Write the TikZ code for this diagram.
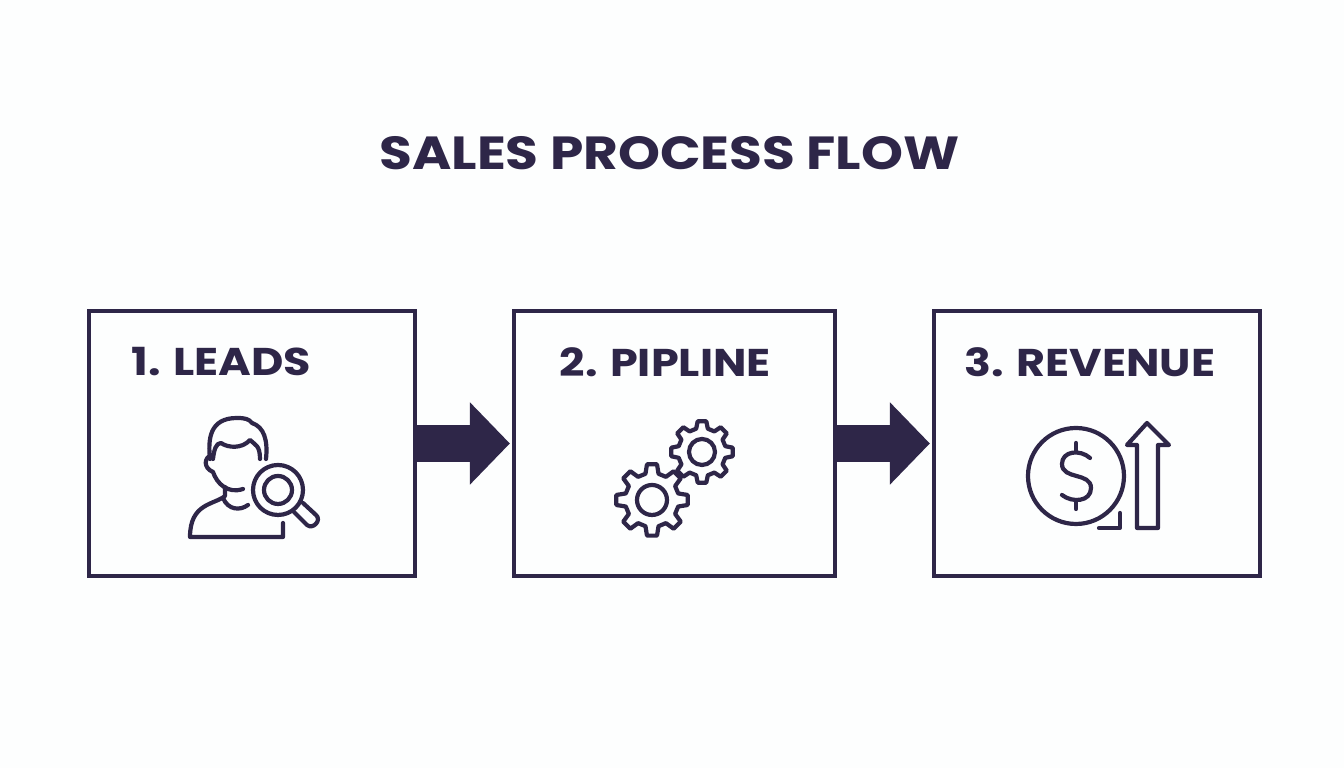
\documentclass[tikz,border=0pt]{standalone}
\usepackage{fontspec}
\setmainfont{Poppins}
\newfontfamily\widefont[FakeStretch=1.15]{Poppins Bold}
\usetikzlibrary{arrows.meta}

\definecolor{inkdark}{HTML}{2E2648}
\definecolor{paper}{HTML}{FDFEFE}

\tikzset{
    stagebox/.style={draw=inkdark, line width=0.038cm, minimum height=2.65cm, outer sep=0pt, inner sep=0pt},
    stagelabel/.style={anchor=west, inner sep=0pt, text=inkdark, font=\fontsize{11}{13}\selectfont\widefont},
    flowarrow/.style={draw=inkdark, line width=0.37cm, shorten >=0.04cm, -{Triangle[length=0.40cm, width=0.80cm]}},
    iconline/.style={draw=inkdark, line width=0.042cm, line join=round, line cap=round},
}

\newcommand{\gearicon}[5]{%
    \begin{scope}[shift={(#1,#2)}]
        \draw[iconline] (-14:#4) \foreach \a in {0,45,...,315} {
            -- ({\a-14}:#4) -- ({\a-8}:#3) -- ({\a+8}:#3) -- ({\a+14}:#4)
        } -- cycle;
        \draw[iconline] (0,0) circle[radius=#5];
    \end{scope}
}

\begin{document}
\begin{tikzpicture}[x=0.01cm, y=-0.01cm]
    \fill[paper] (0,0) rectangle (1344,768);
    \useasboundingbox (0,0) rectangle (1344,768);

    \node[anchor=center, inner sep=0pt, text=inkdark, font=\fontsize{13.2}{18}\selectfont\widefont] (title) at (669.5,153) {SALES PROCESS FLOW};

    \node[stagebox, minimum width=3.26cm] (leads) at (252,443.5) {};
    \node[stagebox, minimum width=3.21cm] (pipline) at (674.5,443.5) {};
    \node[stagebox, minimum width=3.26cm] (revenue) at (1097,443.5) {};

    \draw[flowarrow] (leads.east) -- (pipline.west);
    \draw[flowarrow] (pipline.east) -- (revenue.west);

    \node[stagelabel] (leadslabel) at (131,362) {1. LEADS};
    \node[stagelabel] (piplinelabel) at (559,362) {2. PIPLINE};
    \node[stagelabel] (revenuelabel) at (964,362) {3. REVENUE};

    % person with magnifier
    \draw[iconline] (210,459) .. controls (208,440) and (209,418) .. (237,418)
        .. controls (245,418) and (249,419) .. (252,423)
        .. controls (264,427) and (268,440) .. (266,459);
    \draw[iconline] (213,459) .. controls (214,450) and (216,443) .. (221,443)
        .. controls (228,448) and (242,449) .. (250,440)
        .. controls (255,445) and (260,445) .. (260,459);
    \draw[iconline] (212,455) .. controls (204,457) and (203,468) .. (213,472)
        .. controls (217,484) and (228,494) .. (243,489);
    \draw[iconline] (225,487) -- (225,496) .. controls (214,505) and (190,503) .. (190,537)
        -- (283,537) -- (283,523);
    \draw[iconline] (223,498) .. controls (228,510) and (240,511) .. (248,505);
    \draw[iconline] (278,490) circle[radius=25];
    \draw[iconline] (278,490) circle[radius=14];
    \draw[iconline] (294,512) -- (307,525) .. controls (313,530) and (322,520) .. (316,515) -- (303,503);

    % gears
    \gearicon{652}{500}{36}{27}{15}
    \gearicon{702}{452}{31}{24}{13}

    % dollar coin and rising arrow
    \draw[iconline] (1076,476) circle[radius=48];
    \draw[iconline] (1076,443) -- (1076,452);
    \draw[iconline] (1076,500) -- (1076,509);
    \draw[iconline] (1090,458) .. controls (1080,449) and (1062,451) .. (1062,464)
        .. controls (1062,480) and (1091,472) .. (1091,488)
        .. controls (1091,502) and (1072,503) .. (1062,495);
    \draw[iconline] (1147,423) -- (1169,445) -- (1158,445) -- (1158,528) -- (1137,528) -- (1137,445) -- (1127,445) -- cycle;
    \draw[iconline] (1120,513) -- (1120,528) -- (1099,528);
\end{tikzpicture}
\end{document}
